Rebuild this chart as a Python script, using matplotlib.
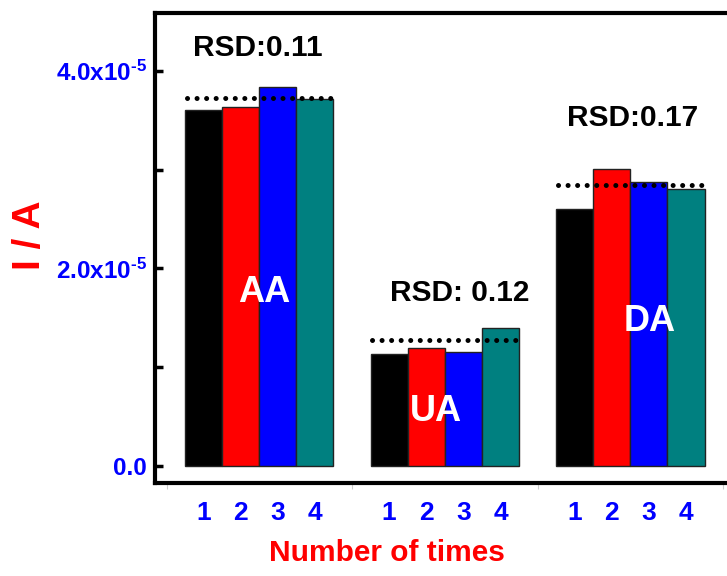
import numpy as np
import matplotlib
matplotlib.use("Agg")
import matplotlib.pyplot as plt

plt.rcParams['font.family'] = ['Liberation Sans', 'DejaVu Sans']
plt.rcParams['font.weight'] = 'bold'
plt.rcParams['mathtext.fontset'] = 'custom'
plt.rcParams['mathtext.rm'] = 'Liberation Sans:bold'
plt.rcParams['mathtext.bf'] = 'Liberation Sans:bold'
plt.rcParams['mathtext.default'] = 'bf'

# data
analytes = ["AA", "UA", "DA"]
times = ["1", "2", "3", "4"]
aa = [3.60e-5, 3.64e-5, 3.84e-5, 3.72e-5]
ua = [1.13e-5, 1.20e-5, 1.15e-5, 1.40e-5]
da = [2.60e-5, 3.01e-5, 2.88e-5, 2.80e-5]
means = [3.73e-5, 1.28e-5, 2.85e-5]
rsd_labels = ["RSD:0.11", "RSD: 0.12", "RSD:0.17"]
colors = ["#000000", "#ff0000", "#0000ff", "#008080"]

fig = plt.figure(figsize=(7.27, 5.76), dpi=100)
ax = fig.add_axes([155 / 727, 93 / 576, 580 / 727, 470 / 576])

groups = [aa, ua, da]
for g, vals in enumerate(groups):
    x = g * 5 + np.arange(4)
    ax.bar(x, vals, width=1.0, color=colors, edgecolor="#222222", linewidth=1.0, zorder=2)
    ax.plot([g * 5 - 0.45, g * 5 + 3.45], [means[g], means[g]], color="black",
            linewidth=3.6, dashes=(0.01, 1.9), dash_capstyle="round", zorder=3)

# annotations
ax.text(1.47, 4.23e-5, rsd_labels[0], ha="center", va="center", fontsize=21.5, fontweight="bold")
ax.text(6.89, 1.75e-5, rsd_labels[1], ha="center", va="center", fontsize=21.5, fontweight="bold")
ax.text(11.55, 3.52e-5, rsd_labels[2], ha="center", va="center", fontsize=21.5, fontweight="bold")
ax.text(1.63, 1.76e-5, analytes[0], ha="center", va="center", fontsize=26, fontweight="bold", color="white", zorder=4)
ax.text(6.27, 0.55e-5, analytes[1], ha="center", va="center", fontsize=26, fontweight="bold", color="white", zorder=4)
ax.text(12.03, 1.46e-5, analytes[2], ha="center", va="center", fontsize=26, fontweight="bold", color="white", zorder=4)

ax.set_xlim(-1.31, 14.32)
ax.set_ylim(-0.172e-5, 4.587e-5)

# x ticks: labels under bars, faint separators between groups
xt = [g * 5 + i for g in range(3) for i in range(4)]
ax.set_xticks(xt)
ax.set_xticklabels(times * 3, fontsize=19, fontweight="bold", color="#0000ff")
ax.tick_params(axis="x", which="major", length=0, pad=13)
ax.set_xticks([-1, 4, 9, 14], minor=True)
ax.tick_params(axis="x", which="minor", length=4, width=0.8, color="#cccccc", direction="out")

ax.set_yticks([0, 2e-5, 4e-5])
ax.set_yticklabels(["0.0", r"2.0x10$^{\text{-5}}$", r"4.0x10$^{\text{-5}}$"], fontsize=17.5, color="#0000ff")
ax.set_yticks([1e-5, 3e-5], minor=True)
ax.tick_params(axis="y", which="both", direction="in", length=6, width=2.5, pad=6)

for s in ["left", "bottom", "top", "right"]:
    ax.spines[s].set_linewidth(3)

ax.set_ylabel("I / A", fontsize=28, fontweight="bold", color="#ff0000")
ax.yaxis.set_label_coords(-0.216, 0.528)
ax.yaxis.label.set_verticalalignment("center")
ax.set_xlabel("Number of times", fontsize=21.5, fontweight="bold", color="#ff0000")
ax.xaxis.set_label_coords(0.40, -0.149)
ax.xaxis.label.set_verticalalignment("center")

fig.savefig("out.png", dpi=100)
